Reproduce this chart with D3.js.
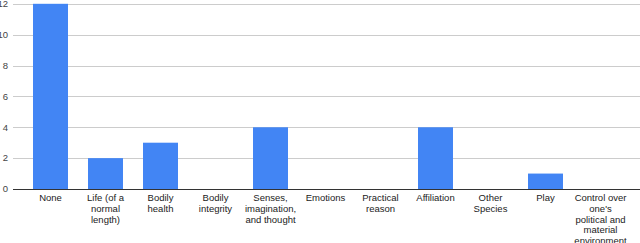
<!DOCTYPE html>
<html>
<head>
<meta charset="utf-8">
<script src="https://cdn.jsdelivr.net/npm/d3@7"></script>
<style>
  body { margin: 0; background: #fff; }
  svg { display: block; font-family: "Liberation Sans", Arial, sans-serif; }
</style>
</head>
<body>
<svg></svg>
<script>
let width = 640, height = 243;

// categories (line breaks as in the original wrapping)
let categories = [
    ["None"],
    ["Life (of a", "normal", "length)"],
    ["Bodily", "health"],
    ["Bodily", "integrity"],
    ["Senses,", "imagination,", "and thought"],
    ["Emotions"],
    ["Practical", "reason"],
    ["Affiliation"],
    ["Other", "Species"],
    ["Play"],
    ["Control over", "one's", "political and", "material", "environment"]
];
let values = [12, 2, 3, 0, 4, 0, 0, 4, 0, 1, 0];
let yTicks = [0, 2, 4, 6, 8, 10, 12];

let svg = d3.select("svg")
    .attr("width", width)
    .attr("height", height);

let x = d3.scaleBand()
    .domain(d3.range(values.length))
    .range([23, 628])
    .paddingInner(0.364)
    .paddingOuter(0.182);

let y = d3.scaleLinear()
    .domain([0, 12])
    .range([189, 3.8]);

// gridlines
svg.append("g")
    .selectAll("line")
    .data(yTicks.filter(d => d > 0))
    .enter()
    .append("line")
    .attr("x1", 13)
    .attr("x2", width)
    .attr("y1", d => Math.round(y(d)) + 0.5)
    .attr("y2", d => Math.round(y(d)) + 0.5)
    .attr("stroke", "#cccccc")
    .attr("stroke-width", 1);

// y labels
svg.append("g")
    .selectAll("text")
    .data(yTicks)
    .enter()
    .append("text")
    .attr("x", 8)
    .attr("y", d => y(d))
    .attr("dy", "0.35em")
    .attr("text-anchor", "end")
    .attr("font-size", 9.5)
    .attr("fill", "#444")
    .text(d => d);

// bars
svg.append("g")
    .selectAll("rect")
    .data(values)
    .enter()
    .append("rect")
    .attr("x", (d, i) => x(i))
    .attr("width", x.bandwidth())
    .attr("y", d => y(d))
    .attr("height", d => y(0) - y(d))
    .attr("fill", "#4285f4");

// baseline
svg.append("line")
    .attr("x1", 13)
    .attr("x2", width)
    .attr("y1", Math.round(y(0)) + 0.5)
    .attr("y2", Math.round(y(0)) + 0.5)
    .attr("stroke", "#333")
    .attr("stroke-width", 1);

// x labels
let xl = svg.append("g")
    .selectAll("text")
    .data(categories)
    .enter()
    .append("text")
    .attr("x", (d, i) => x(i) + x.bandwidth() / 2)
    .attr("y", 201)
    .attr("text-anchor", "middle")
    .attr("font-size", 9.5)
    .attr("fill", "#222");

xl.selectAll("tspan")
    .data(d => d)
    .enter()
    .append("tspan")
    .attr("x", function () { return d3.select(this.parentNode).attr("x"); })
    .attr("dy", (d, i) => i === 0 ? 0 : 10.8)
    .text(d => d);
</script>
</body>
</html>
